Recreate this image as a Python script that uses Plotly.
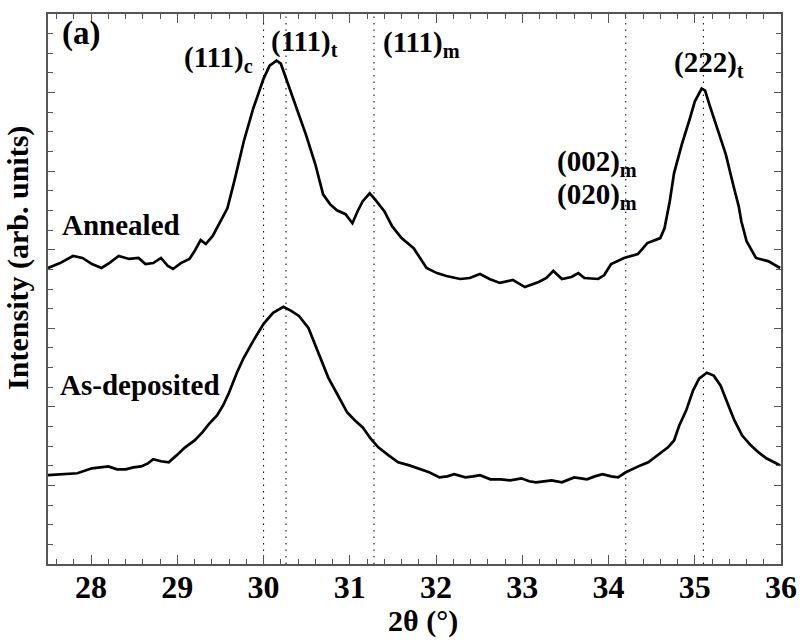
import plotly.graph_objects as go

# 2theta (deg) and intensity (arb. units)
theta_ann = [27.50, 27.64, 27.79, 27.90, 28.01, 28.12, 28.21, 28.32, 28.44, 28.55, 28.63, 28.72, 28.81,
             28.89, 28.95, 29.04, 29.14, 29.20, 29.27, 29.33, 29.41, 29.49, 29.58, 29.66, 29.77, 29.88,
             30.00, 30.07, 30.15, 30.20, 30.26, 30.38, 30.49, 30.60, 30.69, 30.77, 30.85, 30.95, 31.03,
             31.09, 31.15, 31.23, 31.29, 31.40, 31.49, 31.60, 31.74, 31.89, 32.01, 32.12, 32.28, 32.39,
             32.51, 32.62, 32.74, 32.89, 33.03, 33.19, 33.28, 33.36, 33.46, 33.57, 33.65, 33.72, 33.88,
             33.95, 34.03, 34.18, 34.34, 34.45, 34.60, 34.65, 34.71, 34.76, 34.85, 34.94, 35.00, 35.08,
             35.12, 35.17, 35.28, 35.36, 35.45, 35.51, 35.54, 35.60, 35.71, 35.85, 35.99]
int_ann = [15.07, 15.32, 15.68, 15.58, 15.27, 15.07, 15.32, 15.68, 15.53, 15.58, 15.27, 15.32, 15.58,
           15.17, 15.02, 15.32, 15.53, 15.93, 16.49, 16.29, 16.70, 17.35, 18.11, 19.48, 21.51, 23.19,
           24.71, 25.37, 25.62, 25.47, 24.71, 23.19, 21.87, 20.35, 18.82, 18.32, 18.01, 17.81, 17.35,
           17.96, 18.47, 18.87, 18.57, 17.96, 17.20, 16.59, 16.08, 15.07, 14.81, 14.66, 14.51, 14.56,
           14.76, 14.51, 14.31, 14.46, 14.10, 14.36, 14.56, 14.92, 14.51, 14.61, 14.81, 14.56, 14.51,
           14.71, 15.27, 15.58, 15.78, 16.34, 16.59, 17.10, 18.47, 19.90, 21.36, 22.63, 23.54, 24.20,
           24.10, 23.39, 21.87, 20.85, 19.23, 18.21, 17.45, 16.44, 15.58, 15.42, 15.07]

theta_dep = [27.50, 27.67, 27.84, 28.01, 28.10, 28.20, 28.30, 28.40, 28.49, 28.58, 28.66, 28.72, 28.81,
             28.90, 28.99, 29.09, 29.20, 29.29, 29.37, 29.46, 29.53, 29.60, 29.69, 29.77, 29.88, 30.00,
             30.11, 30.23, 30.32, 30.41, 30.52, 30.64, 30.75, 30.85, 30.97, 31.06, 31.15, 31.24, 31.33,
             31.45, 31.56, 31.69, 31.80, 31.92, 32.04, 32.13, 32.21, 32.34, 32.43, 32.51, 32.63, 32.75,
             32.86, 32.99, 33.08, 33.16, 33.25, 33.34, 33.46, 33.54, 33.60, 33.68, 33.75, 33.84, 33.93,
             34.03, 34.11, 34.20, 34.29, 34.37, 34.46, 34.54, 34.61, 34.69, 34.76, 34.82, 34.90, 34.98,
             35.05, 35.14, 35.22, 35.30, 35.39, 35.46, 35.55, 35.65, 35.74, 35.83, 35.92, 35.99]
int_dep = [4.52, 4.57, 4.62, 4.87, 4.92, 4.97, 4.82, 4.82, 4.92, 4.97, 5.12, 5.33, 5.23,
           5.18, 5.53, 5.94, 6.29, 6.70, 7.15, 7.56, 8.07, 8.73, 9.74, 10.50, 11.36, 12.23,
           12.79, 13.09, 12.89, 12.63, 12.02, 10.71, 9.49, 8.68, 7.71, 7.31, 6.95, 6.39, 5.94,
           5.53, 5.18, 5.02, 4.87, 4.67, 4.41, 4.46, 4.57, 4.41, 4.46, 4.52, 4.31, 4.31,
           4.26, 4.36, 4.21, 4.16, 4.21, 4.26, 4.16, 4.31, 4.41, 4.36, 4.31, 4.46, 4.57,
           4.46, 4.41, 4.67, 4.87, 5.02, 5.18, 5.43, 5.68, 5.94, 6.29, 7.05, 7.81, 8.83,
           9.44, 9.74, 9.59, 9.08, 8.07, 7.31, 6.54, 6.04, 5.68, 5.38, 5.18, 5.02]

ref_positions = [30.0, 30.26, 31.28, 34.2, 35.1]

peak_labels = ["(111)<sub>c</sub>", "(111)<sub>t</sub>", "(111)<sub>m</sub>",
               "(002)<sub>m</sub>", "(020)<sub>m</sub>", "(222)<sub>t</sub>"]
peak_label_x = [29.48, 30.47, 31.83, 33.87, 33.87, 35.17]
peak_label_y = [25.70, 26.50, 26.45, 20.42, 18.72, 25.45]

x_ticks = [28, 29, 30, 31, 32, 33, 34, 35, 36]

SERIF = "Liberation Serif, Times New Roman, serif"
AXC = "#555555"

fig = go.Figure()
fig.add_trace(go.Scatter(x=theta_ann, y=int_ann, mode="lines",
                         line=dict(color="black", width=2.7), showlegend=False))
fig.add_trace(go.Scatter(x=theta_dep, y=int_dep, mode="lines",
                         line=dict(color="black", width=2.7), showlegend=False))

for xp in ref_positions:
    fig.add_shape(type="line", xref="x", yref="paper", x0=xp, x1=xp, y0=0, y1=1,
                  line=dict(color="black", width=1, dash="1.5px,5px"), layer="below")

for t, xv, yv in zip(peak_labels, peak_label_x, peak_label_y):
    fig.add_annotation(x=xv, y=yv, xref="x", yref="y", text="<b>" + t + "</b>",
                       xanchor="center", yanchor="middle",
                       showarrow=False, font=dict(family=SERIF, size=29, color="black"))

fig.add_annotation(x=27.64, y=27.0, xref="x", yref="y", text="<b>(a)</b>",
                   xanchor="left", yanchor="middle",
                   showarrow=False, font=dict(family=SERIF, size=33, color="black"))
fig.add_annotation(x=27.64, y=17.25, xref="x", yref="y", text="<b>Annealed</b>",
                   xanchor="left", yanchor="middle",
                   showarrow=False, font=dict(family=SERIF, size=29, color="black"))
fig.add_annotation(x=27.62, y=9.1, xref="x", yref="y", text="<b>As-deposited</b>",
                   xanchor="left", yanchor="middle",
                   showarrow=False, font=dict(family=SERIF, size=29, color="black"))
fig.add_annotation(x=-0.04, y=0.556, xref="paper", yref="paper", text="<b>Intensity (arb. units)</b>",
                   textangle=-90, xanchor="center", yanchor="middle",
                   showarrow=False, font=dict(family=SERIF, size=30, color="black"))
fig.add_annotation(x=31.85, y=-0.103, xref="x", yref="paper", text="<b>2θ (°)</b>",
                   xanchor="center", yanchor="middle",
                   showarrow=False, font=dict(family=SERIF, size=30, color="black"))

fig.update_layout(
    width=809, height=641,
    margin=dict(l=48, r=16, t=12, b=77),
    paper_bgcolor="white", plot_bgcolor="white",
    xaxis=dict(range=[27.5, 36], tickvals=x_ticks, ticktext=[str(v) for v in x_ticks],
               ticks="inside", ticklen=9, tickwidth=1.3, tickcolor=AXC,
               minor=dict(dtick=0.2, ticks="inside", ticklen=5, tickwidth=1.3, tickcolor=AXC),
               showline=True, linecolor=AXC, linewidth=1.5, mirror="ticks",
               showgrid=False, zeroline=False, ticklabelstandoff=-6,
               tickfont=dict(family=SERIF, size=32, color="black", weight="bold")),
    yaxis=dict(range=[0, 28], dtick=4, tick0=0, showticklabels=False,
               ticks="inside", ticklen=7, tickwidth=1.3, tickcolor=AXC,
               minor=dict(dtick=1, ticks="inside", ticklen=5, tickwidth=1.3, tickcolor=AXC),
               showline=True, linecolor=AXC, linewidth=1.5, mirror="ticks",
               showgrid=False, zeroline=False),
)

fig.write_html("out.html")
